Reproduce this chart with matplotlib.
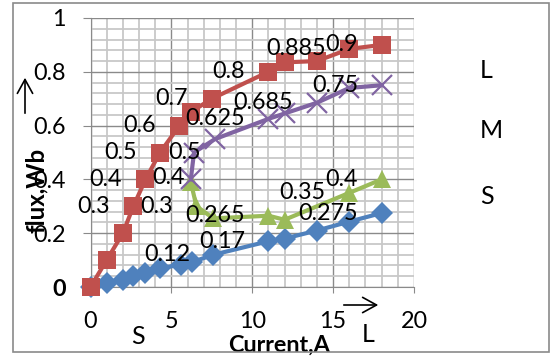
import matplotlib
matplotlib.use("Agg")
import matplotlib.pyplot as plt
from matplotlib.ticker import MultipleLocator, FixedLocator
from matplotlib.patches import Rectangle

plt.rcParams['font.family'] = ['Lato', 'DejaVu Sans']

# ---- data ----
blue_x = [0, 1, 2, 2.65, 3.4, 4.3, 5.6, 6.3, 7.6, 11, 12, 14, 16, 18]
blue_y = [0, 0.015, 0.025, 0.04, 0.052, 0.07, 0.083, 0.093, 0.12, 0.17, 0.18, 0.21, 0.243, 0.275]
blue_lab = [None, None, None, None, None, None, None, None, "0.12", "0.17", None, None, None, "0.275"]

red_x = [0, 1, 2, 2.65, 3.4, 4.3, 5.5, 6.2, 7.5, 11, 12, 14, 16, 18]
red_y = [0, 0.1, 0.2, 0.3, 0.4, 0.5, 0.6, 0.65, 0.7, 0.8, 0.835, 0.84, 0.885, 0.9]
red_lab = [None, None, None, "0.3", "0.4", "0.5", "0.6", None, "0.7", "0.8", None, None, "0.885", "0.9"]

green_x = [6.2, 6.55, 7.6, 11, 12, 16, 18]
green_y = [0.39, 0.3, 0.255, 0.265, 0.25, 0.35, 0.4]
green_lab = ["0.4", "0.3", None, "0.265", None, "0.35", "0.4"]

purple_x = [6.2, 6.4, 7.7, 11, 12, 14, 16, 18]
purple_y = [0.4, 0.5, 0.55, 0.625, 0.645, 0.685, 0.74, 0.75]
purple_lab = [None, "0.5", None, "0.625", None, "0.685", None, "0.75"]

x_ticks = [0, 5, 10, 15, 20]
y_ticks = [0, 0.2, 0.4, 0.6, 0.8, 1.0]
y_tick_labels = ["0", "0.2", "0.4", "0.6", "0.8", "1"]
legend_names = ["L", "M", "S"]

# ---- figure ----
W, H = 550, 356
fig = plt.figure(figsize=(5.5, 3.56), dpi=100)
ax = fig.add_axes([90.5 / W, 69 / H, 323.5 / W, 269 / H])

FS = 16.8
series = [
    (blue_x, blue_y, blue_lab, '#4F81BD', 'D', 11.5, 1),
    (green_x, green_y, green_lab, '#9BBB59', '^', 13, 2),
    (red_x, red_y, red_lab, '#C0504D', 's', 13.5, 3),
    (purple_x, purple_y, purple_lab, '#8064A2', 'x', 14, 4),
]
# special nudges (points) for labels that Excel placed differently
nudge = {('#9BBB59', 0): (13, 3), ('#8064A2', 1): (22, 0)}

for xs, ys, labs, col, mk, ms, z in series:
    ax.plot(xs, ys, color=col, lw=3, marker=mk, ms=ms,
            mew=1.6 if mk == 'x' else 0, mec=col, mfc=col,
            zorder=z + 2, clip_on=False, solid_joinstyle='round')
    for i, (xv, yv, lab) in enumerate(zip(xs, ys, labs)):
        if lab is None:
            continue
        dx, dy = nudge.get((col, i), (0, 0))
        ax.annotate(lab, (xv, yv), xytext=(-17 + dx, dy), textcoords='offset points',
                    ha='right', va='center', fontsize=FS, color='black', zorder=10)

ax.set_xlim(0, 20)
ax.set_ylim(0, 1)
ax.xaxis.set_major_locator(FixedLocator(x_ticks))
ax.yaxis.set_major_locator(FixedLocator(y_ticks))
ax.xaxis.set_minor_locator(MultipleLocator(1))
ax.yaxis.set_minor_locator(MultipleLocator(0.04))
ax.set_yticklabels(y_tick_labels)
ax.grid(which='minor', color='#c8c8c8', lw=1.3, zorder=0)
ax.grid(which='major', color='#8a8a8a', lw=1.0, zorder=0)
ax.set_axisbelow(True)
for s in ['top', 'right']:
    ax.spines[s].set_visible(False)
for s in ['left', 'bottom']:
    ax.spines[s].set_color('#8a8a8a')
ax.tick_params(axis='x', which='major', length=4.3, color='#8a8a8a', pad=13, labelsize=FS)
ax.tick_params(axis='y', which='major', length=5.8, color='#8a8a8a', pad=12, labelsize=FS)
ax.tick_params(which='minor', length=0)
ax.get_yticklabels()[0].set_fontweight('bold')

ax.set_xlabel("Current,A", fontsize=FS, fontweight='bold')
ax.xaxis.set_label_coords((279 - 90.5) / 323.5, (287 - 335) / 269)
ax.set_ylabel("flux,Wb", fontsize=FS + 0.5, fontweight='bold')
ax.yaxis.set_label_coords((48 - 90.5) / 323.5, (287 - 190) / 269)

# decorations
def fp(x, y):
    return (x, H - y)

ax.annotate('', xy=fp(25, 75), xytext=fp(25, 116), xycoords='figure pixels',
            textcoords='figure pixels',
            arrowprops=dict(arrowstyle='->,head_length=1.0,head_width=0.55', lw=1.2, color='black'))
ax.annotate('', xy=fp(381, 305), xytext=fp(341, 305), xycoords='figure pixels',
            textcoords='figure pixels',
            arrowprops=dict(arrowstyle='->,head_length=1.0,head_width=0.55', lw=1.2, color='black'))
fig.text(138 / W, 1 - 336 / H, "S", fontsize=18, ha='center', va='center')
fig.text(368 / W, 1 - 334 / H, "L", fontsize=18, ha='center', va='center')
for name, yc in zip(legend_names, [71, 130, 196.5]):
    fig.text(480 / W, 1 - yc / H, name, fontsize=18, ha='left', va='center')

fig.patches.append(Rectangle((13 / W, 4 / H), (549 - 13) / W, (352 - 3) / H,
                             transform=fig.transFigure, fill=False,
                             edgecolor='#8a8a8a', lw=1.2))

fig.savefig("out.png", dpi=100)
